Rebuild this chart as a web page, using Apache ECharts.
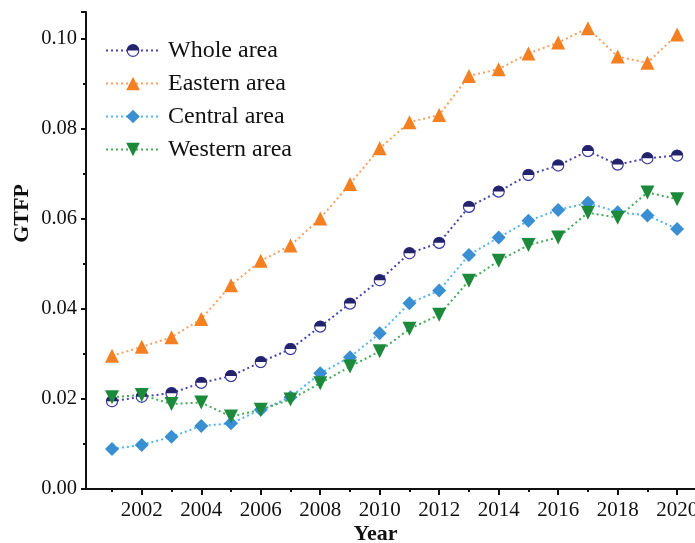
<!DOCTYPE html>
<html>
<head>
<meta charset="utf-8">
<script src="https://cdn.jsdelivr.net/npm/echarts@6/dist/echarts.min.js"></script>
<style>
html,body{margin:0;padding:0;background:#fff;}
#chart{width:695px;height:543px;}
</style>
</head>
<body>
<div id="chart"></div>
<script>
const years = [2001,2002,2003,2004,2005,2006,2007,2008,2009,2010,2011,2012,2013,2014,2015,2016,2017,2018,2019,2020];
const labelYears = [2002,2004,2006,2008,2010,2012,2014,2016,2018,2020];
const minorYears = [2001,2003,2005,2007,2009,2011,2013,2015,2017,2019];
const seriesNames = ['Whole area','Eastern area','Central area','Western area'];
const wholeArea = [0.0195,0.0205,0.0213,0.0236,0.0251,0.0282,0.0311,0.0361,0.0412,0.0464,0.0524,0.0547,0.0627,0.0661,0.0698,0.0719,0.0751,0.0721,0.0735,0.0741];
const easternArea = [0.0296,0.0316,0.0337,0.0378,0.0453,0.0507,0.0541,0.0601,0.0678,0.0757,0.0815,0.0831,0.0918,0.0933,0.0968,0.0992,0.1024,0.0961,0.0947,0.1010];
const centralArea = [0.0089,0.0098,0.0116,0.0140,0.0146,0.0176,0.0204,0.0257,0.0293,0.0346,0.0413,0.0441,0.0520,0.0559,0.0596,0.0620,0.0636,0.0615,0.0608,0.0578];
const westernArea = [0.0204,0.0209,0.0189,0.0192,0.0161,0.0176,0.0199,0.0235,0.0272,0.0306,0.0356,0.0387,0.0463,0.0507,0.0542,0.0559,0.0614,0.0603,0.0659,0.0644];

const FONT = 'Liberation Serif';
const halfCircleSvg = "<svg xmlns='http://www.w3.org/2000/svg' width='28' height='28' viewBox='0 0 28 28'>" +
  "<circle cx='14' cy='14' r='12' fill='white' stroke='#3c3c9e' stroke-width='2.6'/>" +
  "<path d='M1.7 14 A12.3 12.3 0 0 1 26.3 14 Z' fill='#23226a'/></svg>";
const halfCircle = 'image://data:image/svg+xml;charset=utf-8,' + encodeURIComponent(halfCircleSvg);

function pairs(vals){ return years.map((y,i)=>[y, vals[i]]); }

const chart = echarts.init(document.getElementById('chart'), null, {renderer:'canvas'});
const gridPos = {left:86, right:0, top:12, bottom:54, containLabel:false, outerBoundsMode:'none'};
const xRange = {min:2000.125, max:2020.6};

function mkSeries(name, vals, symbol, size, lineColor, markColor){
  return {
    name: name, type:'line', xAxisIndex:0, yAxisIndex:0,
    data: pairs(vals),
    symbol: symbol, symbolSize: size,
    showAllSymbol: true,
    lineStyle: {color: lineColor, width: 2, type: [2,3]},
    itemStyle: {color: markColor, borderWidth: 0},
    emphasis: {disabled: true},
    animation: false
  };
}

chart.setOption({
  backgroundColor:'#ffffff',
  animation:false,
  grid:[Object.assign({}, gridPos), Object.assign({}, gridPos)],
  legend:{
    left:105, top:38, orient:'vertical', padding:0,
    itemWidth:54, itemHeight:17, itemGap:8,
    textStyle:{fontFamily:FONT, fontSize:24, color:'#111', lineHeight:25, padding:[0,0,0,3]},
    data: seriesNames
  },
  xAxis:[{
    type:'value', gridIndex:0, min:xRange.min, max:xRange.max,
    name:'Year', nameLocation:'middle', nameGap:34, nameMoveOverlap:false,
    nameTextStyle:{fontFamily:FONT, fontSize:22, fontWeight:'bold', color:'#111', padding:[0,30,0,0]},
    axisLine:{show:true, lineStyle:{color:'#111', width:2}},
    axisTick:{show:true, inside:false, length:6, lineStyle:{color:'#111', width:2}, customValues: labelYears},
    axisLabel:{show:true, fontFamily:FONT, fontSize:21, color:'#111', margin:11, customValues: labelYears, formatter:(v)=>String(Math.round(v))},
    splitLine:{show:false}
  },{
    type:'value', gridIndex:1, min:xRange.min, max:xRange.max,
    axisLine:{show:false},
    axisTick:{show:true, inside:false, length:3, lineStyle:{color:'#111', width:2}, customValues: minorYears},
    axisLabel:{show:false},
    splitLine:{show:false}
  }],
  yAxis:[{
    type:'value', gridIndex:0, min:0, max:0.106, interval:0.02,
    name:'GTFP', nameLocation:'middle', nameGap:53, nameRotate:90, nameMoveOverlap:false,
    nameTextStyle:{fontFamily:FONT, fontSize:22, fontWeight:'bold', color:'#111', padding:[0,0,0,74]},
    axisLine:{show:true, lineStyle:{color:'#111', width:2}},
    axisTick:{show:true, inside:false, length:5, lineStyle:{color:'#111', width:2}},
    minorTick:{show:true, splitNumber:2, length:3, lineStyle:{color:'#111', width:2}},
    axisLabel:{fontFamily:FONT, fontSize:20.5, color:'#111', margin:9, formatter:(v)=>v.toFixed(2), showMaxLabel:false},
    splitLine:{show:false}
  },{
    type:'value', gridIndex:1, min:0, max:0.106, show:false
  }],
  series:[
    mkSeries(seriesNames[0], wholeArea, halfCircle, 13, '#4646b0', '#23226a'),
    mkSeries(seriesNames[1], easternArea, 'triangle', 14, '#f7a060', '#f58022'),
    mkSeries(seriesNames[2], centralArea, 'diamond', 14, '#55b4ee', '#3a8fd3'),
    mkSeries(seriesNames[3], westernArea, 'path://M0,0 L10,0 L5,9 Z', 14, '#46ab58', '#1d8a3b')
  ]
});
</script>
</body>
</html>
